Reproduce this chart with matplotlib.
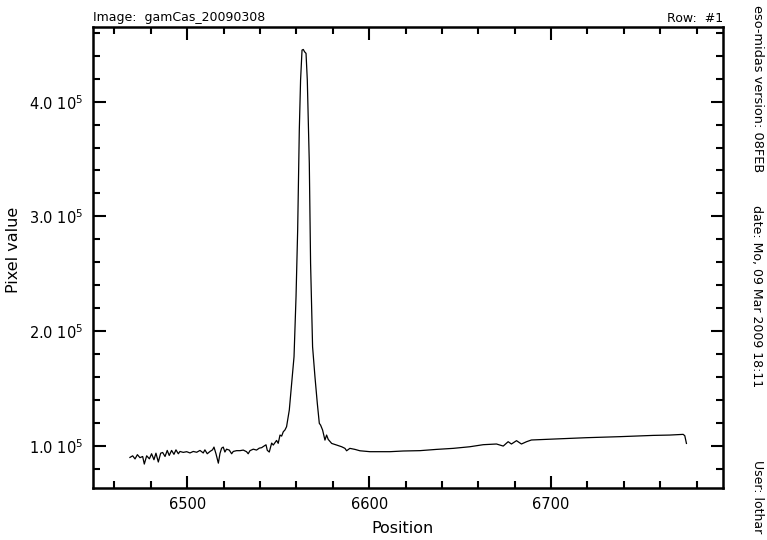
import numpy as np
from matplotlib import pyplot as plt
from matplotlib.ticker import MultipleLocator, FixedLocator

# spectrum: wavelength (Angstrom) and pixel value in 1e5
wave = [6468.5, 6470.0, 6471.3, 6472.6, 6474.0, 6475.5, 6476.4, 6477.7, 6479.2, 6480.4,
        6481.7, 6482.8, 6484.1, 6485.4, 6486.5, 6487.8, 6489.0, 6490.1, 6491.4, 6492.7,
        6493.8, 6495.1, 6496.0, 6497.8, 6499.7, 6501.5, 6503.3, 6505.2, 6507.0, 6508.8,
        6509.7, 6511.0, 6512.5, 6513.9, 6514.7, 6515.8, 6517.1, 6518.0, 6518.9, 6519.8,
        6520.7, 6521.6, 6523.1, 6524.4, 6525.3, 6527.1, 6529.0, 6530.8, 6532.6, 6533.5,
        6534.5, 6536.3, 6538.1, 6539.6, 6540.9, 6541.8, 6543.3, 6544.0, 6545.1, 6546.4,
        6547.3, 6549.1, 6550.0, 6551.0, 6551.9, 6552.8, 6553.7, 6554.6,
        6556.1, 6557.4, 6558.7, 6559.8, 6560.7, 6561.6, 6562.3, 6563.1, 6563.8, 6564.5,
        6565.3, 6566.0, 6567.1, 6567.8, 6568.9, 6570.2, 6571.5, 6572.6, 6573.3, 6574.4,
        6575.7, 6576.6, 6577.5, 6579.4, 6582.1, 6584.9, 6586.7, 6587.6, 6589.4, 6592.2,
        6594.9, 6600.4,
        6611.4, 6618.7, 6627.9, 6637.0, 6646.2, 6655.3, 6662.7, 6670.0, 6673.7, 6676.4,
        6678.2, 6681.0, 6683.7, 6686.5, 6689.2, 6701.1, 6719.4, 6737.8, 6756.1, 6765.2,
        6772.6, 6773.5, 6774.4]
flux = [0.898, 0.912, 0.885, 0.922, 0.896, 0.906, 0.840, 0.912, 0.886, 0.930,
        0.878, 0.935, 0.858, 0.935, 0.941, 0.906, 0.959, 0.915, 0.959, 0.925,
        0.964, 0.930, 0.950, 0.942, 0.948, 0.937, 0.950, 0.943, 0.959, 0.937,
        0.964, 0.930, 0.950, 0.964, 0.988, 0.930, 0.848, 0.933, 0.979, 0.988,
        0.945, 0.970, 0.962, 0.930, 0.950, 0.957, 0.957, 0.962, 0.948, 0.930,
        0.957, 0.970, 0.962, 0.979, 0.983, 0.993, 1.008, 0.960, 0.945, 1.023,
        1.006, 1.046, 1.021, 1.093, 1.084, 1.122, 1.137, 1.166,
        1.311, 1.544, 1.776, 2.299, 2.880, 3.752, 4.188, 4.450, 4.455, 4.435,
        4.421, 4.188, 3.462, 2.590, 1.863, 1.602, 1.369, 1.195, 1.180, 1.137,
        1.049, 1.093, 1.055, 1.020, 1.006, 0.991, 0.977, 0.956, 0.977, 0.968,
        0.956, 0.948,
        0.948, 0.954, 0.957, 0.968, 0.977, 0.991, 1.009, 1.015, 0.997, 1.035,
        1.015, 1.044, 1.015, 1.035, 1.050, 1.058, 1.070, 1.079, 1.090, 1.093,
        1.099, 1.087, 1.020]

x_range = (6448.2, 6794.5)
y_range = (0.634e5, 4.651e5)
y_major = [1e5, 2e5, 3e5, 4e5]
y_labels = ["1.0 10$^5$", "2.0 10$^5$", "3.0 10$^5$", "4.0 10$^5$"]

plt.rcParams['font.family'] = ['DejaVu Sans']
fig = plt.figure(figsize=(7.67, 5.40), dpi=100)
ax = fig.add_axes([93 / 767, 52.3 / 540, 630 / 767, 460.7 / 540])

ax.plot(wave, np.array(flux) * 1e5, color='black', linewidth=0.9)

ax.set_xlim(*x_range)
ax.set_ylim(*y_range)
ax.xaxis.set_major_locator(MultipleLocator(100))
ax.xaxis.set_minor_locator(MultipleLocator(20))
ax.yaxis.set_major_locator(FixedLocator(y_major))
ax.set_yticklabels(y_labels)
ax.yaxis.set_minor_locator(MultipleLocator(0.2e5))

for s in ax.spines.values():
    s.set_linewidth(1.8)
ax.tick_params(which='both', direction='in', top=True, right=True,
               width=1.5, labelsize=10.5, colors='black')
ax.tick_params(which='major', length=9, pad=7)
ax.tick_params(which='minor', length=5)

ax.set_xlabel("Position", fontsize=11.5)
ax.set_ylabel("Pixel value", fontsize=11.5)
ax.xaxis.set_label_coords(0.492, -0.073)
ax.yaxis.set_label_coords(-0.115, 0.516)

fig.text(93 / 767, 1 - 18 / 540, "Image:  gamCas_20090308", fontsize=9,
         va='center', ha='left')
fig.text(723 / 767, 1 - 18 / 540, "Row:  #1", fontsize=9, va='center', ha='right')

fig.text(757 / 767, 1 - 5 / 540, "eso-midas version: 08FEB", fontsize=9.3,
         rotation=270, va='top', ha='center')
fig.text(757 / 767, 1 - 205 / 540, "date: Mo, 09 Mar 2009 18:11", fontsize=9,
         rotation=270, va='top', ha='center')
fig.text(757 / 767, 1 - 460 / 540, "User: lothar", fontsize=9,
         rotation=270, va='top', ha='center')

plt.savefig("out.png", dpi=100)
